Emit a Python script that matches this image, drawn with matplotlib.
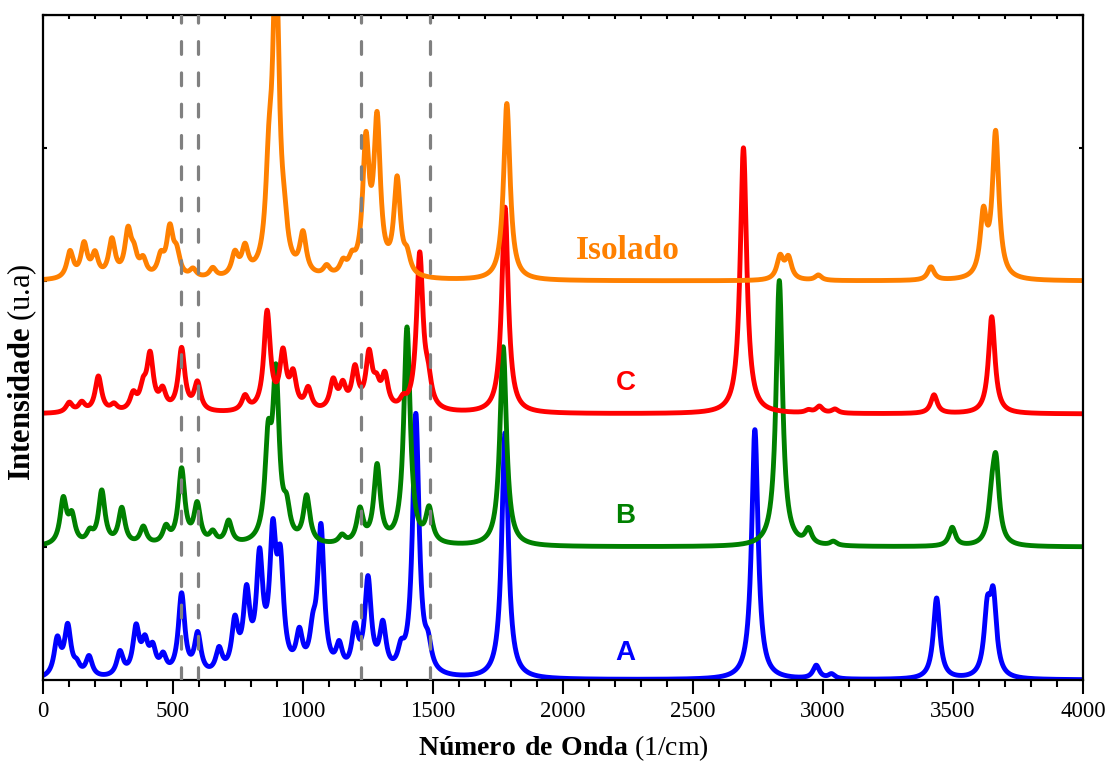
#! coding: utf-8
import numpy as np
import matplotlib.pyplot as plt

# ------------------------------------------------------------
# Peak list (frequency [1/cm], intensity [u.a]) for each spectrum
# ------------------------------------------------------------
a_freq = [55, 95, 130, 177, 296, 358, 392, 422, 462, 533, 595, 677, 738, 783,
          833, 884, 913, 986, 1038, 1069, 1139, 1200, 1250, 1307, 1377, 1434,
          1481, 1777, 2738, 2974, 3033, 3437, 3632, 3655]
a_int  = [0.275, 0.37, 0.07, 0.15, 0.18, 0.35, 0.22, 0.18, 0.13, 0.61, 0.30, 0.18,
          0.37, 0.565, 0.82, 0.95, 0.74, 0.27, 0.24, 1.08, 0.19, 0.32, 0.70, 0.35,
          0.14, 1.96, 0.17, 1.85, 1.88, 0.10, 0.035, 0.61, 0.46, 0.56]

b_freq = [78, 111, 180, 226, 303, 386, 473, 533, 593, 653, 714, 866, 896, 937,
          1014, 1150, 1219, 1285, 1400, 1485, 1770, 2832, 2944, 3040, 3497,
          3649, 3665]
b_int  = [0.336, 0.20, 0.08, 0.40, 0.27, 0.13, 0.12, 0.56, 0.29, 0.08, 0.17, 0.69,
          1.20, 0.21, 0.35, 0.06, 0.25, 0.58, 1.63, 0.25, 1.50, 2.00, 0.11, 0.03,
          0.14, 0.26, 0.58]

c_freq = [101, 149, 213, 273, 347, 385, 412, 460, 533, 594, 777, 862, 923, 962,
          1020, 1116, 1153, 1200, 1254, 1283, 1315, 1385, 1449, 1481, 1777,
          2694, 2944, 2986, 3046, 3427, 3649]
c_int  = [0.074, 0.07, 0.27, 0.05, 0.12, 0.15, 0.405, 0.14, 0.47, 0.21, 0.11, 0.74,
          0.41, 0.25, 0.16, 0.215, 0.17, 0.30, 0.40, 0.15, 0.24, 0.06, 1.17, 0.18,
          1.55, 2.00, 0.02, 0.05, 0.03, 0.14, 0.73]

iso_freq = [104, 158, 200, 265, 327, 350, 385, 453, 488, 514, 577, 653, 738, 777,
            869, 896, 928, 1000, 1091, 1154, 1188, 1242, 1285, 1362, 1400, 1784,
            2835, 2867, 2982, 3415, 3617, 3664]
iso_int  = [0.20, 0.25, 0.17, 0.28, 0.33, 0.146, 0.12, 0.14, 0.35, 0.16, 0.06, 0.07,
            0.165, 0.20, 0.63, 2.30, 0.22, 0.30, 0.07, 0.09, 0.10, 0.97, 1.13, 0.71,
            0.13, 1.33, 0.17, 0.16, 0.04, 0.10, 0.46, 1.09]

offsets = [0, 1, 2, 3]
names   = ['A', 'B', 'C', 'Isolado']
colors  = ['#0000FF', '#008000', '#FF0000', '#FF8000']

# marked bands
vlines = [531, 596, 1223, 1488]

hwhm = 15.0  # lorentzian half width [1/cm]


def spectrum(x, freq, inten):
    y = np.zeros_like(x)
    for f, a in zip(freq, inten):
        y += a*hwhm**2/((x - f)**2 + hwhm**2)
    return y


plt.rcParams['font.family'] = ['Liberation Serif', 'DejaVu Serif']
plt.rcParams['mathtext.fontset'] = 'custom'
plt.rcParams['mathtext.rm'] = 'Liberation Serif'
plt.rcParams['mathtext.bf'] = 'Liberation Serif:bold'

fig = plt.figure(figsize=(11.08, 7.64), dpi=100)
ax = fig.add_axes([43/1108., 1-680/764., 1040/1108., 665/764.])

x = np.linspace(0, 4000, 8001)
data = [(a_freq, a_int), (b_freq, b_int), (c_freq, c_int), (iso_freq, iso_int)]
for (freq, inten), off, col in zip(data, offsets, colors):
    ax.plot(x, off + spectrum(x, freq, inten), color=col, lw=3.5,
            solid_joinstyle='round', zorder=2)

for v in vlines:
    ax.axvline(v, color='#808080', lw=2.3, ls=(0, (4.0, 5.8)),
               dash_capstyle='round', zorder=3)

# labels
ax.text(2250, 3.23, 'Isolado', color=colors[3], fontsize=24, fontweight='bold',
        ha='center', va='center')
for lab, yy, col in zip(['C', 'B', 'A'], [2.23, 1.23, 0.2], colors[2::-1]):
    ax.text(2240, yy, lab, color=col, fontsize=20, fontweight='bold',
            family='Liberation Sans', ha='center', va='center')

ax.set_xlim(0, 4000)
ax.set_ylim(0, 5)
ax.set_xticks(np.arange(0, 4001, 500))
ax.set_xticks(np.arange(0, 4001, 100), minor=True)
ax.set_yticks(np.arange(0, 6, 1))
ax.set_yticklabels([])
ax.tick_params(axis='x', which='major', direction='out', length=10, width=1.5,
               labelsize=16.5, pad=5)
ax.tick_params(axis='x', which='minor', direction='out', length=5, width=1.5)
ax.tick_params(axis='y', direction='in', length=3, width=1.5, right=True)
ax.tick_params(axis='x', which='both', top=False)
for s in ax.spines.values():
    s.set_linewidth(1.6)

# top axis ticks (small, inward)
sec = ax.secondary_xaxis('top')
sec.set_xticks(np.arange(0, 4001, 100))
sec.set_xticklabels([])
sec.tick_params(direction='in', length=3, width=1.5)

fig.text(563/1108., 1-748/764., r'$\mathbf{Número\ de\ Onda}$ (1/cm)',
         fontsize=20, ha='center', va='center')
fig.text(22/1108., 1-372/764., r'$\mathbf{Intensidade}$ (u.a)',
         fontsize=22, rotation=90, ha='center', va='center')

plt.savefig('out.png', dpi=100)
plt.close()
